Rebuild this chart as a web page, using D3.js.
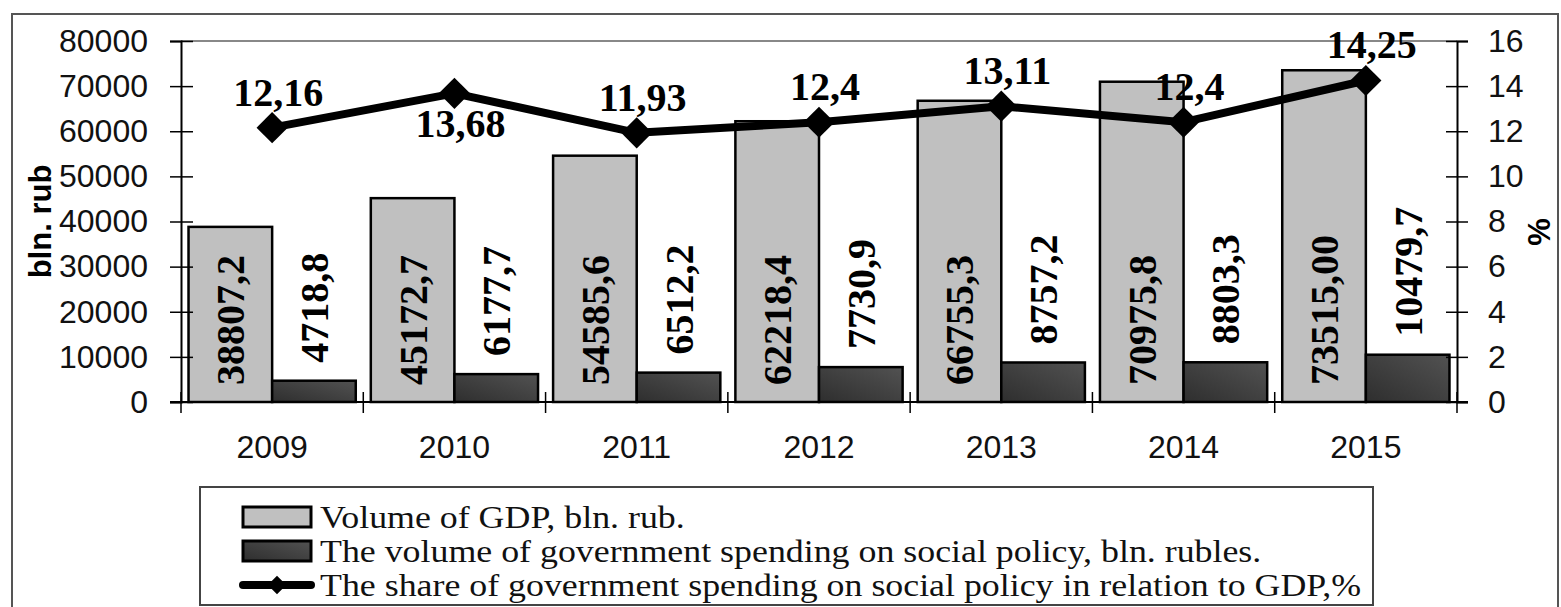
<!DOCTYPE html>
<html>
  <head>
    <meta charset="utf-8">
    <script src="https://d3js.org/d3.v7.min.js"></script>
    <style>
      body { margin: 0; background: white; }
      svg { display: block; }
    </style>
  </head>
  <body>
    <script>
        // data
        var years = ["2009", "2010", "2011", "2012", "2013", "2014", "2015"];
        var gdp = [38807.2, 45172.7, 54585.6, 62218.4, 66755.3, 70975.8, 73515.0];
        var gdpLabels = ["38807,2", "45172,7", "54585,6", "62218,4", "66755,3", "70975,8", "73515,00"];
        var social = [4718.8, 6177.7, 6512.2, 7730.9, 8757.2, 8803.3, 10479.7];
        var socialLabels = ["4718,8", "6177,7", "6512,2", "7730,9", "8757,2", "8803,3", "10479,7"];
        var share = [12.16, 13.68, 11.93, 12.4, 13.11, 12.4, 14.25];
        var shareLabels = ["12,16", "13,68", "11,93", "12,4", "13,11", "12,4", "14,25"];
        var leftTicks = [0, 10000, 20000, 30000, 40000, 50000, 60000, 70000, 80000];
        var rightTicks = [0, 2, 4, 6, 8, 10, 12, 14, 16];
        var legendNames = [
            "Volume of GDP, bln. rub.",
            "The volume of government spending on social policy, bln. rubles.",
            "The share of government spending on social policy in relation to GDP,%"
        ];

        var width = 1561, height = 607;
        var pLeft = 181, pRight = 1457, pTop = 41, pBottom = 402;

        var svg = d3.select("body").append("svg")
            .attr("width", width)
            .attr("height", height)

        var defs = svg.append("defs")
        var grad = defs.append("linearGradient").attr("id", "darkbar")
            .attr("x1", "0").attr("y1", "1").attr("x2", "1").attr("y2", "0")
        grad.append("stop").attr("offset", "0%").attr("stop-color", "#2e2e2e")
        grad.append("stop").attr("offset", "100%").attr("stop-color", "#525252")

        // outer frame
        svg.append("rect")
            .attr("x", 12).attr("y", 14)
            .attr("width", 1546).attr("height", 610)
            .attr("fill", "none").attr("stroke", "#555").attr("stroke-width", 2)

        var x = d3.scaleBand().domain(years).range([pLeft, pRight]).padding(0)
        var xs = d3.scaleBand().domain(["gdp", "social"]).range([0, x.bandwidth()])
            .paddingInner(0).paddingOuter(0.09)
        var y = d3.scaleLinear().domain([0, 80000]).range([pBottom, pTop])
        var y2 = d3.scaleLinear().domain([0, 16]).range([pBottom, pTop])

        // top border of plot area
        svg.append("line")
            .attr("x1", pLeft).attr("x2", pRight)
            .attr("y1", pTop).attr("y2", pTop)
            .attr("stroke", "#888").attr("stroke-width", 2)

        // bars
        var groups = svg.selectAll(".year").data(years)
            .enter().append("g")
            .attr("class", "year")
            .attr("transform", function(d) { return "translate(" + x(d) + ",0)"; })

        groups.append("rect")
            .attr("x", xs("gdp"))
            .attr("y", function(d, i) { return y(gdp[i]); })
            .attr("width", xs.bandwidth())
            .attr("height", function(d, i) { return y(0) - y(gdp[i]); })
            .attr("fill", "#c0c0c0")
            .attr("stroke", "black")
            .attr("stroke-width", 2.5)

        groups.append("rect")
            .attr("x", xs("social"))
            .attr("y", function(d, i) { return y(social[i]); })
            .attr("width", xs.bandwidth())
            .attr("height", function(d, i) { return y(0) - y(social[i]); })
            .attr("fill", "url(#darkbar)")
            .attr("stroke", "black")
            .attr("stroke-width", 2.5)

        // axes
        var axL = svg.append("g")
            .attr("transform", "translate(" + pLeft + ",0)")
            .call(d3.axisLeft(y).tickValues(leftTicks).tickSize(11).tickPadding(22).tickFormat(d3.format("d")))
        var axR = svg.append("g")
            .attr("transform", "translate(" + pRight + ",0)")
            .call(d3.axisRight(y2).tickValues(rightTicks).tickSize(11).tickPadding(20))
        axL.selectAll(".tick line").attr("x1", 12)
        axR.selectAll(".tick line").attr("x1", -11)
        ;[axL, axR].forEach(function(a) {
            a.select(".domain").attr("stroke", "black").attr("stroke-width", 2)
            a.selectAll(".tick line").attr("stroke", "black").attr("stroke-width", 1.5)
            a.selectAll(".tick text")
                .attr("font-family", "Liberation Sans, Arial, sans-serif")
                .attr("font-size", 32)
                .attr("fill", "#111")
        })

        // x axis
        svg.append("line")
            .attr("x1", pLeft - 11).attr("x2", pRight + 11)
            .attr("y1", pBottom).attr("y2", pBottom)
            .attr("stroke", "black").attr("stroke-width", 2)
        svg.selectAll(".xtick").data(years.concat(["end"]))
            .enter().append("line")
            .attr("class", "xtick")
            .attr("x1", function(d, i) { return pLeft + i * x.step(); })
            .attr("x2", function(d, i) { return pLeft + i * x.step(); })
            .attr("y1", pBottom - 10).attr("y2", pBottom + 11)
            .attr("stroke", "black").attr("stroke-width", 1.5)
        svg.selectAll(".xlab").data(years)
            .enter().append("text")
            .attr("class", "xlab")
            .attr("x", function(d) { return x(d) + x.bandwidth() / 2; })
            .attr("y", pBottom + 56)
            .attr("text-anchor", "middle")
            .attr("font-family", "Liberation Sans, Arial, sans-serif")
            .attr("font-size", 32)
            .attr("fill", "#111")
            .text(function(d) { return d; })

        // axis titles
        svg.append("text")
            .attr("transform", "translate(40," + ((pTop + pBottom) / 2) + ") rotate(-90)")
            .attr("text-anchor", "middle")
            .attr("dy", "0.35em")
            .attr("font-family", "Liberation Sans, Arial, sans-serif")
            .attr("font-weight", "bold")
            .attr("font-size", 31)
            .text("bln. rub")
        svg.append("text")
            .attr("transform", "translate(1539," + (pBottom - 170) + ") rotate(-90)")
            .attr("text-anchor", "middle")
            .attr("dy", "0.35em")
            .attr("font-family", "Liberation Sans, Arial, sans-serif")
            .attr("font-weight", "bold")
            .attr("font-size", 31)
            .text("%")

        // line
        var line = d3.line()
            .x(function(d, i) { return x(years[i]) + x.bandwidth() / 2; })
            .y(function(d) { return y2(d); })
        svg.append("path")
            .datum(share)
            .attr("d", line)
            .attr("fill", "none")
            .attr("stroke", "black")
            .attr("stroke-width", 8)
            .attr("stroke-linejoin", "round")

        svg.selectAll(".marker").data(share)
            .enter().append("path")
            .attr("class", "marker")
            .attr("d", d3.symbol().type(d3.symbolDiamond2).size(620))
            .attr("transform", function(d, i) {
                return "translate(" + (x(years[i]) + x.bandwidth() / 2) + "," + y2(d) + ")";
            })
            .attr("fill", "black")

        // line labels (2010 label sits under its point)
        var labelBelow = [false, true, false, false, false, false, false]
        svg.selectAll(".sharelab").data(share)
            .enter().append("text")
            .attr("class", "sharelab")
            .attr("x", function(d, i) { return x(years[i]) + x.bandwidth() / 2 + 6; })
            .attr("y", function(d, i) { return y2(d) + (labelBelow[i] ? 44 : -22); })
            .attr("text-anchor", "middle")
            .attr("font-family", "Liberation Serif, Times New Roman, serif")
            .attr("font-weight", "bold")
            .attr("font-size", 40)
            .text(function(d, i) { return shareLabels[i]; })

        // bar labels
        groups.append("text")
            .attr("transform", function(d, i) {
                return "translate(" + (xs("gdp") + xs.bandwidth() / 2) + "," + (y(0) - 17) + ") rotate(-90)";
            })
            .attr("dy", "0.35em")
            .attr("text-anchor", "start")
            .attr("font-family", "Liberation Serif, Times New Roman, serif")
            .attr("font-weight", "bold")
            .attr("font-size", 40)
            .text(function(d, i) { return gdpLabels[i]; })

        groups.append("text")
            .attr("transform", function(d, i) {
                return "translate(" + (xs("social") + xs.bandwidth() / 2) + "," + (y(social[i]) - 18) + ") rotate(-90)";
            })
            .attr("dy", "0.35em")
            .attr("text-anchor", "start")
            .attr("font-family", "Liberation Serif, Times New Roman, serif")
            .attr("font-weight", "bold")
            .attr("font-size", 40)
            .text(function(d, i) { return socialLabels[i]; })

        // legend
        var legend = svg.append("g").attr("class", "legend")
        legend.append("rect")
            .attr("x", 200).attr("y", 487)
            .attr("width", 1173).attr("height", 118)
            .attr("fill", "white")
            .attr("stroke", "#444").attr("stroke-width", 2)

        var ly = d3.scalePoint().domain(legendNames).range([517, 585])
        var items = legend.selectAll(".item").data(legendNames)
            .enter().append("g")
            .attr("class", "item")
            .attr("transform", function(d) { return "translate(243," + ly(d) + ")"; })

        items.filter(function(d, i) { return i < 2; })
            .append("rect")
            .attr("x", 0).attr("y", -10)
            .attr("width", 68).attr("height", 20)
            .attr("fill", function(d, i) { return i == 0 ? "#c0c0c0" : "url(#darkbar)"; })
            .attr("stroke", "black").attr("stroke-width", 3)

        var lineItem = items.filter(function(d, i) { return i == 2; })
        lineItem.append("line")
            .attr("x1", 0).attr("x2", 68)
            .attr("stroke", "black").attr("stroke-width", 8)
            .attr("stroke-linecap", "round")
        lineItem.append("path")
            .attr("d", d3.symbol().type(d3.symbolDiamond2).size(220))
            .attr("transform", "translate(34,0)")
            .attr("fill", "black")

        // legend text is a bit wider than plain Times in the picture
        items.append("text")
            .attr("x", 77)
            .attr("dy", "0.35em")
            .attr("font-family", "Liberation Serif, Times New Roman, serif")
            .attr("font-size", 32)
            .attr("fill", "#111")
            .text(function(d) { return d; })
            .each(function() {
                var w = this.getComputedTextLength()
                d3.select(this).attr("textLength", w * 1.12).attr("lengthAdjust", "spacingAndGlyphs")
            })
    </script>
  </body>
</html>
